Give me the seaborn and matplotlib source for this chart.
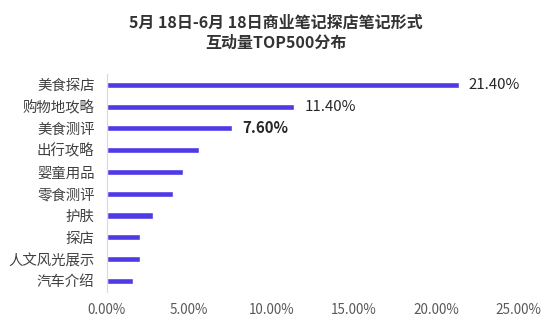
import matplotlib
matplotlib.use("Agg")
import matplotlib.pyplot as plt
import seaborn as sns
import pandas as pd

categories = ["美食探店", "购物地攻略", "美食测评", "出行攻略", "婴童用品",
              "零食测评", "护肤", "探店", "人文风光展示", "汽车介绍"]
shares = [21.4, 11.4, 7.6, 5.6, 4.6, 4.0, 2.8, 2.0, 2.0, 1.6]
labelled = ["21.40%", "11.40%", "7.60%"]
label_weights = ["normal", "medium", "bold"]
x_ticks = [0, 5, 10, 15, 20, 25]

sns.set_theme(style="white")
plt.rcParams["font.family"] = ["Noto Sans CJK SC", "DejaVu Sans"]

df = pd.DataFrame({"category": categories, "share": shares})

fig = plt.figure(figsize=(5.5, 3.3), dpi=100)
ax = fig.add_axes([0.1945, 0.116, 0.7475, 0.66])

sns.barplot(data=df, x="share", y="category", orient="h", color="#4F3BE6",
            saturation=1, width=0.28, ax=ax)

ax.set_xlim(0, 25)
ax.set_xticks(x_ticks)
ax.set_xticklabels([f"{t:.2f}%" for t in x_ticks], color="#595959", fontsize=9.7)
ax.set_xlabel("")
ax.set_ylabel("")
ax.tick_params(axis="y", length=0, pad=9, labelsize=10.4, labelcolor="#404040")
ax.tick_params(axis="x", length=0, pad=8)

for side in ["top", "right", "bottom"]:
    ax.spines[side].set_visible(False)
ax.spines["left"].set_color("#d9d9d9")
ax.spines["left"].set_linewidth(0.8)

for i, (txt, w) in enumerate(zip(labelled, label_weights)):
    ax.text(shares[i] + 0.6, i, txt, va="center", ha="left",
            fontsize=10.8, color="#262626", fontweight=w)

fig.text(0.502, 0.9, "5月 18日-6月 18日商业笔记探店笔记形式\n互动量TOP500分布",
         ha="center", va="center", fontsize=11.5, fontweight="bold",
         color="#333333", linespacing=1.35)

fig.savefig("out.png", dpi=100, facecolor="white")
